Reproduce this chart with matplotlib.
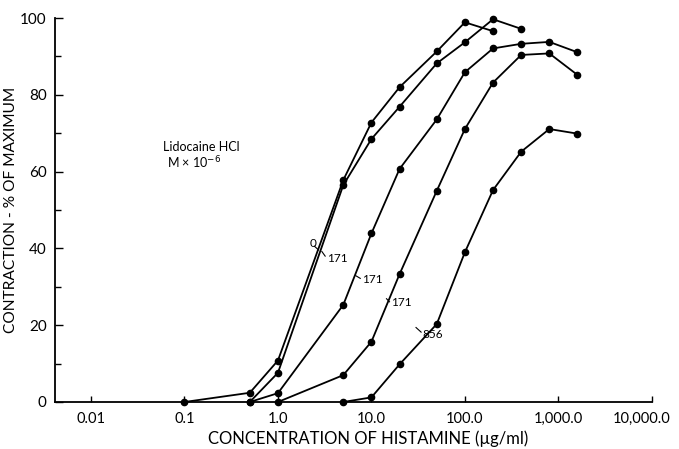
import matplotlib
matplotlib.use("Agg")
import matplotlib.pyplot as plt
from matplotlib.ticker import FixedLocator, NullLocator
from matplotlib.transforms import ScaledTranslation

# Histamine concentration (ug/ml) and contraction (% of maximum) per lidocaine level
conc_0 = [0.1, 0.5, 1.0, 5, 10, 20, 50, 100, 200]
resp_0 = [0, 2.4, 10.8, 57.8, 72.8, 82.0, 91.3, 98.9, 96.6]

conc_171a = [0.5, 1.0, 5, 10, 20, 50, 100, 200, 400]
resp_171a = [0, 7.6, 56.5, 68.5, 76.9, 88.2, 93.7, 99.7, 97.2]

conc_171b = [0.5, 1.0, 5, 10, 20, 50, 100, 200, 400, 800, 1600]
resp_171b = [0, 2.3, 25.3, 43.9, 60.7, 73.6, 85.9, 92.1, 93.3, 93.8, 91.1]

conc_171c = [1.0, 5, 10, 20, 50, 100, 200, 400, 800, 1600]
resp_171c = [0, 7.0, 15.7, 33.3, 55.0, 71.1, 83.2, 90.4, 90.8, 85.2]

conc_856 = [5, 10, 20, 50, 100, 200, 400, 800, 1600]
resp_856 = [0, 1.2, 9.8, 20.3, 39.0, 55.2, 65.2, 71.1, 69.9]

x_ticks = [0.01, 0.1, 1, 10, 100, 1000, 10000]
x_tick_labels = ["0.01", "0.1", "1.0", "10.0", "100.0", "1,000.0", "10,000.0"]
y_ticks = [0, 20, 40, 60, 80, 100]

plt.rcParams["font.family"] = ["Lato", "DejaVu Sans"]

fig = plt.figure(figsize=(6.79, 4.49), dpi=100)
ax = fig.add_axes([0.081, 0.1047, 0.879, 0.855])

series = [
    (conc_0, resp_0),
    (conc_171a, resp_171a),
    (conc_171b, resp_171b),
    (conc_171c, resp_171c),
    (conc_856, resp_856),
]
for xs, ys in series:
    ax.plot(xs, ys, color="black", lw=1.3, marker="o", ms=4.5,
            markerfacecolor="black", markeredgecolor="black", clip_on=False)

ax.set_xscale("log")
ax.set_xlim(0.00412, 10000)
ax.set_ylim(0, 100)

ax.xaxis.set_major_locator(FixedLocator(x_ticks))
ax.xaxis.set_minor_locator(NullLocator())
ax.set_xticklabels(x_tick_labels)
ax.yaxis.set_major_locator(FixedLocator(y_ticks))
ax.yaxis.set_minor_locator(FixedLocator([10, 30, 50, 70, 90]))

for side in ("top", "right"):
    ax.spines[side].set_visible(False)
for side in ("left", "bottom"):
    ax.spines[side].set_linewidth(1.3)

ax.tick_params(axis="x", which="major", direction="in", length=4, width=1,
               labelsize=10.5, pad=7)
ax.tick_params(axis="y", which="major", direction="in", length=6, width=1,
               labelsize=11, pad=6)
ax.tick_params(axis="y", which="minor", direction="in", length=4, width=1)

# keep the last tick label inside the canvas
last = ax.get_xticklabels()[-1]
last.set_transform(last.get_transform() + ScaledTranslation(-10 / 100, 0, fig.dpi_scale_trans))

ax.set_ylabel("CONTRACTION - % OF MAXIMUM", fontsize=11.2)
ax.yaxis.set_label_coords(-0.062, 0.5)
fig.text(0.542, 0.024, "CONCENTRATION OF HISTAMINE (\u00b5g/ml)", fontsize=12,
         ha="center", va="center")

# Note for the lidocaine concentration unit
ax.text(0.0589, 66.4, "Lidocaine HCl", fontsize=9, ha="left", va="center")
ax.text(0.065, 62.3, "M \u00d7 10$^{-6}$", fontsize=9, ha="left", va="center")

# Curve labels with short leader lines
labels = [
    ("0", 2.2, 41.4, (2.45, 40.6), (2.72, 39.6)),
    ("171", 3.35, 37.4, (2.95, 39.2), (3.2, 38.0)),
    ("171", 8.0, 31.8, (6.8, 32.9), (7.6, 32.2)),
    ("171", 16.2, 25.8, (14.5, 26.9), (15.6, 26.1)),
    ("856", 35.5, 17.7, (30.0, 19.4), (34.0, 18.2)),
]
for text, tx, ty, p0, p1 in labels:
    ax.text(tx, ty, text, fontsize=8.5, ha="left", va="center")
    ax.plot([p0[0], p1[0]], [p0[1], p1[1]], color="black", lw=0.8)

fig.savefig("out.png", dpi=100, facecolor="white")
